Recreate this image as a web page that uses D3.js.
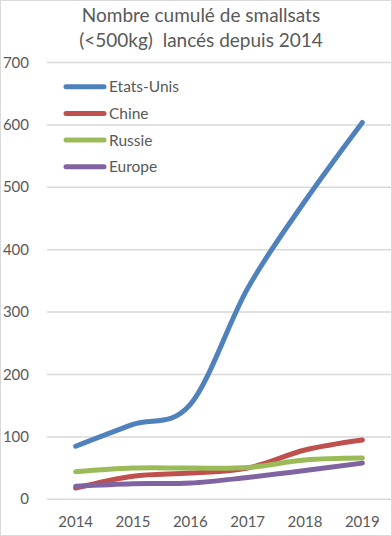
<!DOCTYPE html>
<html><head><meta charset="utf-8">
<script src="https://cdn.jsdelivr.net/npm/d3@7"></script>
<style>body{margin:0;background:#fff}svg{display:block}</style>
</head><body>
<script>
const years = ["2014","2015","2016","2017","2018","2019"];
const seriesNames = ["Etats-Unis","Chine","Russie","Europe"];
const etatsUnis = [85, 120, 152, 338, 478, 604];
const chine = [18, 37, 42, 50, 79, 95];
const russie = [44, 50, 50, 51, 63, 66];
const europe = [21, 25, 26, 35, 46, 58];
const yTicks = [0,100,200,300,400,500,600,700];
const colors = ["#4F81BD","#C0504D","#9BBB59","#8064A2"];
const titleLines = ["Nombre cumulé de smallsats","(<500kg)\u00a0 lancés depuis 2014"];

const W=392,H=536;
const font="Lato, 'Open Sans', sans-serif";
const svg=d3.select("body").append("svg").attr("width",W).attr("height",H);
svg.append("rect").attr("x",0.5).attr("y",0.5).attr("width",W-1).attr("height",H-1)
  .attr("fill","#fff").attr("stroke","#d9d9d9");

const x=d3.scaleBand().domain(years).range([47,391]);
const y=d3.scaleLinear().domain([0,700]).range([499.3,62.5]);

svg.append("g").selectAll("line").data(yTicks).join("line")
  .attr("x1",47).attr("x2",391).attr("y1",d=>y(d)).attr("y2",d=>y(d))
  .attr("stroke","#d9d9d9").attr("stroke-width",1.5);

svg.append("g").selectAll("text").data(yTicks).join("text")
  .attr("x",29).attr("y",d=>y(d)+5).attr("text-anchor","end")
  .attr("font-family",font).attr("font-size",15).attr("fill","#595959").text(d=>d);

svg.append("g").selectAll("text").data(years).join("text")
  .attr("x",d=>x(d)+x.bandwidth()/2).attr("y",527).attr("text-anchor","middle")
  .attr("font-family",font).attr("font-size",15).attr("fill","#595959").text(d=>d);

svg.append("g").selectAll("text").data(titleLines).join("text")
  .attr("x",201).attr("y",(d,i)=>22+i*24.5).attr("text-anchor","middle")
  .attr("font-family",font).attr("font-size",19).attr("fill","#595959").text(d=>d);

const data=[etatsUnis,chine,russie,europe];
const line=d3.line().x((d,i)=>x(years[i])+x.bandwidth()/2).y(d=>y(d)).curve(d3.curveCardinal.tension(0));
data.forEach((s,k)=>{
  svg.append("path").attr("d",line(s)).attr("fill","none").attr("stroke",colors[k])
    .attr("stroke-width",5).attr("stroke-linecap","round").attr("stroke-linejoin","round");
});

const lg=svg.append("g");
seriesNames.forEach((n,i)=>{
  const yy=86.7+i*26.7;
  lg.append("line").attr("x1",66).attr("x2",104).attr("y1",yy).attr("y2",yy)
    .attr("stroke",colors[i]).attr("stroke-width",5).attr("stroke-linecap","round");
  lg.append("text").attr("x",109).attr("y",yy+5.5).attr("font-family",font).attr("font-size",15.5)
    .attr("fill","#595959").text(n);
});
</script>
</body></html>
